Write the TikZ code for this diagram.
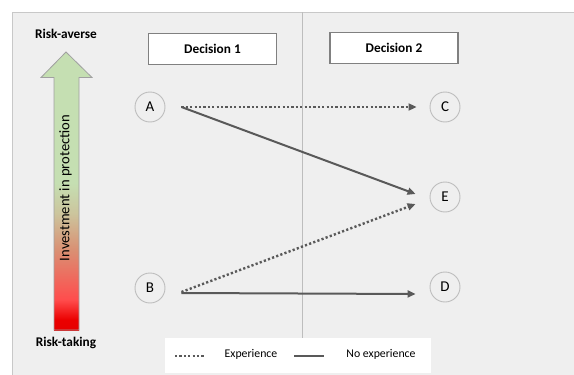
\documentclass[tikz,border=0pt]{standalone}
\usepackage{fontspec}
\setmainfont{Carlito}
\usetikzlibrary{arrows.meta,calc}
\definecolor{bg}{HTML}{EFEFEF}
\definecolor{rim}{HTML}{C8C8C8}
\definecolor{circ}{HTML}{BDBDBD}
\definecolor{boxline}{HTML}{808080}
\definecolor{conn}{HTML}{595959}
\definecolor{headgreen}{HTML}{C5DFB2}
\definecolor{arrowrim}{HTML}{A0A0A0}
\pgfdeclareverticalshading{riskgrad}{100bp}{%
  color(0bp)=(red!90!black);
  color(25bp)=(red!90!black);
  color(27bp)=(red!92!black);
  color(31bp)=(red!70!white);
  color(41bp)=(red!35!headgreen);
  color(48bp)=(red!12!headgreen);
  color(54bp)=(headgreen);
  color(100bp)=(headgreen)}
\tikzset{
  state/.style={circle,draw=circ,line width=0.9pt,fill=bg,minimum size=30pt,inner sep=0pt,font=\fontsize{15}{17}\selectfont},
  decbox/.style={rectangle,draw=boxline,line width=1.1pt,fill=white,minimum width=128pt,minimum height=31pt,font=\bfseries\fontsize{13.3}{15}\selectfont},
  sideword/.style={font=\bfseries\fontsize{13.3}{15}\selectfont},
  solidcon/.style={conn,line width=2pt,-{Triangle[length=8pt,width=7pt]}},
  dotcon/.style={conn,line width=2.4pt,dash pattern=on 2.2pt off 2.2pt,-{Triangle[length=8pt,width=7pt]}},
  legtext/.style={font=\fontsize{11.8}{13}\selectfont}
}
\begin{document}
\begin{tikzpicture}[x=1pt,y=-1pt]
\useasboundingbox (0,0) rectangle (574,375);
\fill[white] (0,0) rectangle (574,375);
\fill[bg] (12,12) rectangle (574,375);
\draw[rim,line width=1pt] (12,375) -- (12,12) -- (574,12);
% divider
\coordinate (divtop) at (302,12);
\coordinate (divbot) at (302,338);
\draw[circ,line width=1pt] (divtop) -- (divbot);
% big arrow
\shade[shading=riskgrad] (54,77) rectangle (79,330);
\fill[headgreen] (66,52) -- (92,77.5) -- (41,77.5) -- cycle;
\fill[headgreen] (54,76) rectangle (79,90);
\draw[arrowrim,line width=0.8pt] (66,52) -- (92,77.5) -- (79,77.5) -- (79,330) -- (54,330) -- (54,77.5) -- (41,77.5) -- cycle;
\node[rotate=90,font=\fontsize{14.6}{16}\selectfont] (invest) at (65.5,188) {Investment in protection};
\node[sideword] (averse) at (66,34) {Risk-averse};
\node[sideword] (taking) at (66,343) {Risk-taking};
% decisions
\node[decbox] (d1) at (212.5,49) {Decision 1};
\node[decbox] (d2) at (394,48) {Decision 2};
% states
\node[state] (A) at (150,107) {A};
\node[state] (B) at (150,288) {B};
\node[state] (C) at (445,107) {C};
\node[state] (E) at (445,197) {E};
\node[state] (D) at (445,287) {D};
% connectors
\draw[dotcon] ($(A.east)+(16,0)$) -- ($(C.west)+(-13,0)$);
\draw[solidcon] ($(A.east)+(16,0)$) -- ($(E.west)+(-14,-3)$);
\draw[dotcon] ($(B.east)+(16,4)$) -- ($(E.west)+(-14,7)$);
\draw[solidcon] ($(B.east)+(16,5)$) -- ($(D.west)+(-14,7)$);
% legend
\node[fill=white,minimum width=266pt,minimum height=35pt,inner sep=0pt] (leg) at (298,355.5) {};
\coordinate (l1a) at (175,356);
\coordinate (l1b) at (204,356);
\coordinate (l2a) at (294,356);
\coordinate (l2b) at (324,356);
\draw[conn,line width=2.4pt,dash pattern=on 2.2pt off 2.2pt] (l1a) -- (l1b);
\draw[conn,line width=2pt] (l2a) -- (l2b);
\node[legtext] (lexp) at (251,354) {Experience};
\node[legtext] (lnoexp) at (381,354) {No experience};
\end{tikzpicture}
\end{document}
